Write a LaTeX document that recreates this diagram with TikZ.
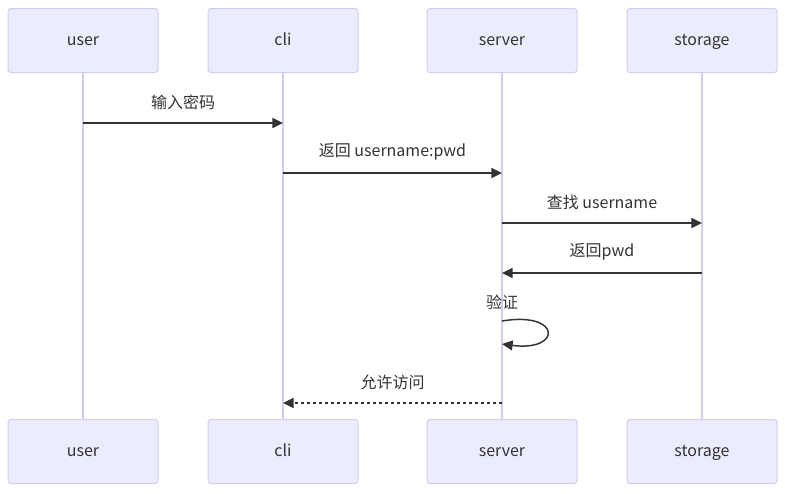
\documentclass[tikz,border=0pt]{standalone}
\usepackage{fontspec}
\setmainfont{Noto Sans CJK SC}
\usetikzlibrary{arrows.meta}
\definecolor{actfill}{HTML}{ECECFF}
\definecolor{actborder}{RGB}{212,204,240}
\definecolor{txt}{HTML}{333333}
\begin{document}
\begin{tikzpicture}[x=0.75pt,y=-0.75pt,
  actor/.style={draw=actborder, fill=actfill, rounded corners=2.25pt, minimum width=112.5pt, minimum height=48pt, text=txt, font=\fontsize{12}{14}\selectfont, line width=0.75pt, inner sep=0pt, text height=10.5pt, text depth=2.3pt},
  life/.style={draw=actborder, line width=1pt},
  msg/.style={draw=txt, line width=1.5pt, -{Triangle[length=8pt,width=7.5pt]}},
  retmsg/.style={msg, dash pattern=on 2.25pt off 2.25pt},
  selfmsg/.style={draw=txt, line width=1.1pt, -{Triangle[length=8pt,width=7.5pt]}},
  lbl/.style={text=txt, font=\fontsize{12}{14}\selectfont, inner sep=0pt}]
\useasboundingbox (0,0) rectangle (785,493);
% actors top
\node[actor] (u1) at (83,40.5) {user};
\node[actor] (c1) at (283,40.5) {cli};
\node[actor] (s1) at (502,40.5) {server};
\node[actor] (t1) at (702,40.5) {storage};
% actors bottom
\node[actor] (u2) at (83,451.5) {user};
\node[actor] (c2) at (283,451.5) {cli};
\node[actor] (s2) at (502,451.5) {server};
\node[actor] (t2) at (702,451.5) {storage};
% lifelines
\draw[life] (u1.south) -- (u2.north);
\draw[life] (c1.south) -- (c2.north);
\draw[life] (s1.south) -- (s2.north);
\draw[life] (t1.south) -- (t2.north);
% messages
\node[lbl] (l1) at (183,102) {输入密码};
\draw[msg] (u1 |- 0,123) -- (c1 |- 0,123);
\node[lbl] (l2) at (392.5,152) {返回 username:pwd};
\draw[msg] (c1 |- 0,173) -- (s1 |- 0,173);
\node[lbl] (l3) at (602,202) {查找 username};
\draw[msg] (s1 |- 0,223) -- (t1 |- 0,223);
\node[lbl] (l4) at (602,252) {返回pwd};
\draw[msg] (t1 |- 0,273) -- (s1 |- 0,273);
\node[lbl] (l5) at (502,302) {验证};
\coordinate (a5) at (s1 |- 0,321);
\coordinate (b5) at (s1 |- 0,344);
\draw[selfmsg] (a5) .. controls (562,311) and (562,352) .. (b5);
\node[lbl] (l6) at (392.5,382) {允许访问};
\draw[retmsg] (s1 |- 0,403) -- (c1 |- 0,403);
\end{tikzpicture}
\end{document}
